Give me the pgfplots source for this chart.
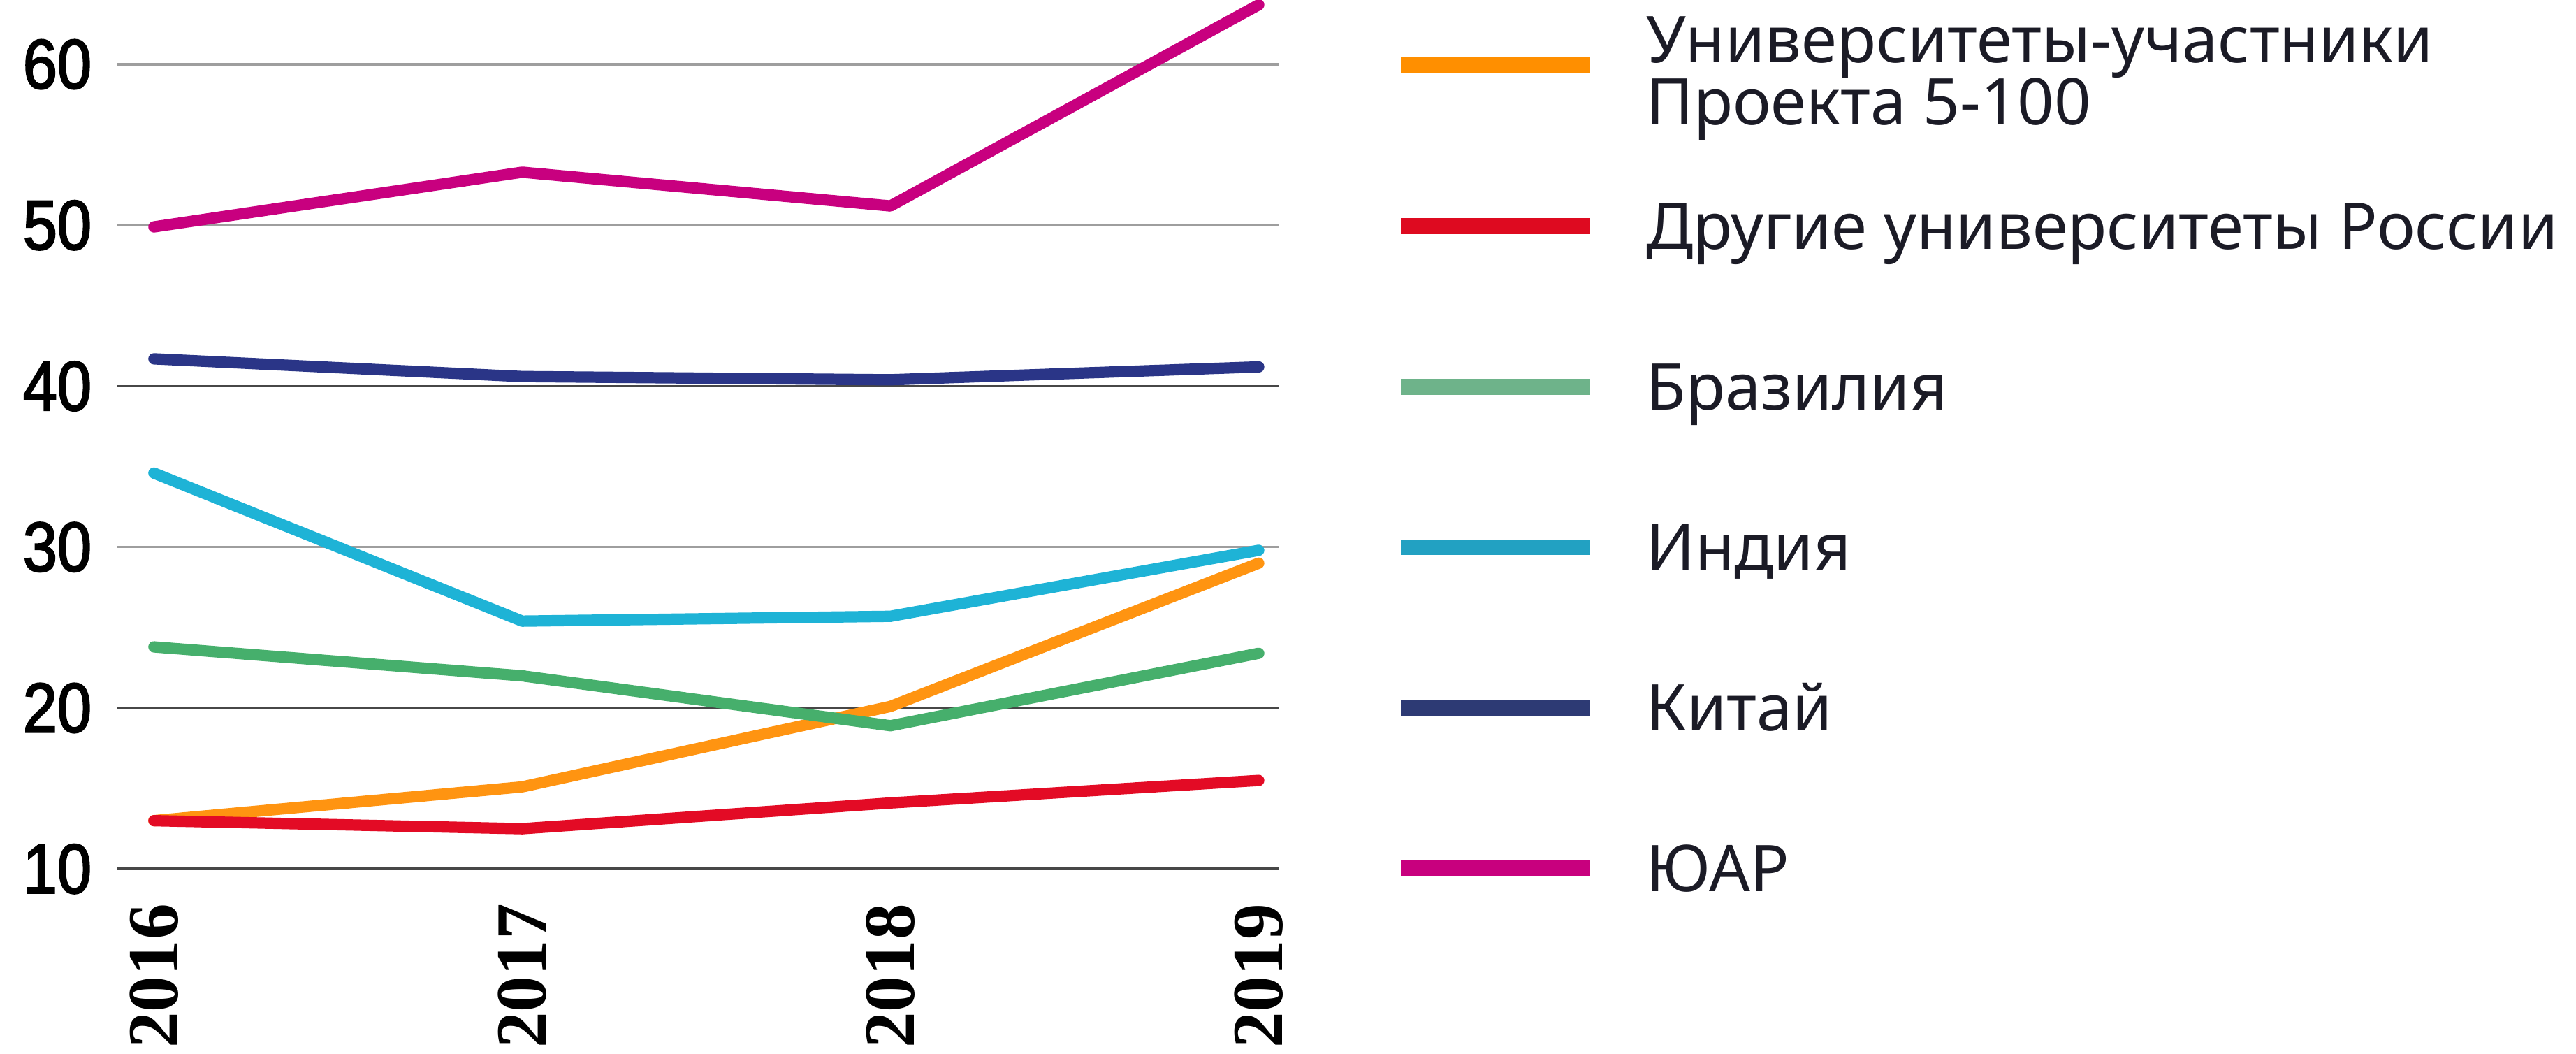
\documentclass[border=0pt]{standalone}
\usepackage{fontspec}
\setmainfont{Noto Sans}
\newfontfamily\yfont[FakeStretch=0.88, FakeBold=2.2]{Liberation Sans}
\newfontfamily\xfont{Liberation Serif}
\usepackage{pgfplots}
\pgfplotsset{compat=1.18}

\definecolor{c-proj}{HTML}{FF9411}
\definecolor{c-rus}{HTML}{E30B25}
\definecolor{c-bra}{HTML}{46AF6C}
\definecolor{c-ind}{HTML}{1EB3D6}
\definecolor{c-chn}{HTML}{2A3587}
\definecolor{c-zaf}{HTML}{C8007F}
\definecolor{l-proj}{HTML}{FF8F00}
\definecolor{l-rus}{HTML}{DE0A20}
\definecolor{l-bra}{HTML}{6EB38A}
\definecolor{l-ind}{HTML}{22A1C2}
\definecolor{l-chn}{HTML}{2D3A74}
\definecolor{l-zaf}{HTML}{C8007E}
\definecolor{txt}{HTML}{1B1B26}

\begin{document}
\begin{tikzpicture}
\begin{axis}[
    name=ax,
    scale only axis,
    width=225.3pt, height=168.6pt,
    xmin=2015.901, xmax=2019.053,
    ymin=10, ymax=64,
    clip=false,
    axis line style={draw=none},
    major tick length=0pt,
    xtick={2016,2017,2018,2019},
    xticklabels={2016,2017,2018,2019},
    xticklabel style={rotate=90, anchor=east, inner xsep=6.6pt, inner ysep=0pt,
        font=\xfont\bfseries\fontsize{14}{15}\selectfont},
    ytick={30,50,60},
    extra y ticks={10,20,40},
    /pgf/number format/assume math mode=true,
    yticklabel style={font=\yfont\fontsize{13.6}{14}\selectfont, text=black, xshift=-1.5pt},
    ymajorgrids,
    major grid style={draw=black!38, line width=0.45pt},
    extra y tick style={major grid style={draw=black!72, line width=0.5pt}},
    every axis plot/.append style={line width=2.2pt, line cap=round, line join=round},
    legend style={draw=none, fill=none, inner sep=0pt, outer sep=0pt,
        at={(axis description cs:1.0989,0.9659)}, anchor=north west,
        font=\fontsize{12.5}{12}\selectfont, text=txt,
        row sep=17.2pt,
        nodes={inner sep=0pt, text height=11.45pt, text depth=2.5pt},
        /tikz/every odd column/.append style={column sep=9.4pt}},
    legend cell align=left,
    legend image code/.code={\draw[line width=3.1pt, line cap=butt, #1] (0pt,0pt) -- (36.7pt,0pt);},
]
% Университеты-участники Проекта 5-100
\addplot[c-proj, forget plot] coordinates {(2016,13.0) (2017,15.1) (2018,20.1) (2019,29.0)};
% Другие университеты России
\addplot[c-rus, forget plot] coordinates {(2016,13.0) (2017,12.5) (2018,14.1) (2019,15.5)};
% Бразилия
\addplot[c-bra, forget plot] coordinates {(2016,23.8) (2017,22.0) (2018,18.9) (2019,23.4)};
% Индия
\addplot[c-ind, forget plot] coordinates {(2016,34.6) (2017,25.4) (2018,25.7) (2019,29.8)};
% Китай
\addplot[c-chn, forget plot] coordinates {(2016,41.7) (2017,40.6) (2018,40.4) (2019,41.2)};
% ЮАР
\addplot[c-zaf, forget plot] coordinates {(2016,49.9) (2017,53.3) (2018,51.2) (2019,63.7)};

\addlegendimage{l-proj}
\addlegendentry{\rlap{\raisebox{5pt}{Университеты-участники}}\raisebox{-7pt}{Проекта 5-100}}
\addlegendimage{l-rus}
\addlegendentry{Другие университеты России}
\addlegendimage{l-bra}
\addlegendentry{Бразилия}
\addlegendimage{l-ind}
\addlegendentry{Индия}
\addlegendimage{l-chn}
\addlegendentry{Китай}
\addlegendimage{l-zaf}
\addlegendentry{ЮАР}
\end{axis}
\pgfresetboundingbox
\path ([shift={(-22.8pt,-35.8pt)}]ax.south west) rectangle ([shift={(477.2pt,0pt)}]ax.north west);
\end{tikzpicture}
\end{document}
